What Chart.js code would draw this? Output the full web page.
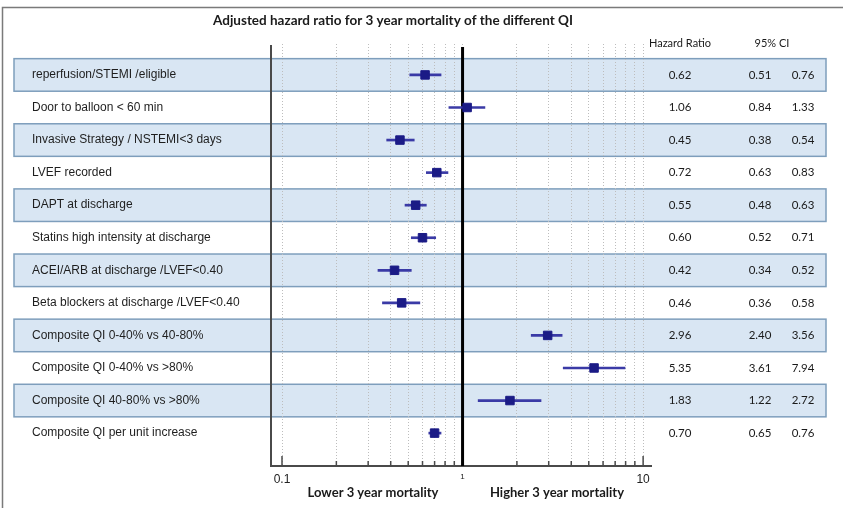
<!DOCTYPE html>
<html>
<head>
<meta charset="utf-8">
<script src="https://cdn.jsdelivr.net/npm/chart.js@4"></script>
<style>
  html, body { margin: 0; padding: 0; background: #fff; }
  #wrap { width: 846px; height: 508px; }
</style>
</head>
<body>
<div id="wrap"><canvas id="forest" width="846" height="508"></canvas></div>
<script>
// Quality indicators (rows, top to bottom)
const categories = [
  'reperfusion/STEMI /eligible',
  'Door to balloon < 60 min',
  'Invasive Strategy / NSTEMI<3 days',
  'LVEF recorded',
  'DAPT at discharge',
  'Statins high intensity at discharge',
  'ACEI/ARB at discharge /LVEF<0.40',
  'Beta blockers at discharge /LVEF<0.40',
  'Composite QI 0-40% vs 40-80%',
  'Composite QI 0-40% vs >80%',
  'Composite QI 40-80% vs >80%',
  'Composite QI per unit increase'
];

// Adjusted hazard ratios with 95% confidence limits
const hazardRatios = [0.62, 1.06, 0.45, 0.72, 0.55, 0.60, 0.42, 0.46, 2.96, 5.35, 1.83, 0.70];
const ciLower      = [0.51, 0.84, 0.38, 0.63, 0.48, 0.52, 0.34, 0.36, 2.40, 3.61, 1.22, 0.65];
const ciUpper      = [0.76, 1.33, 0.54, 0.83, 0.63, 0.71, 0.52, 0.58, 3.56, 7.94, 2.72, 0.76];

// Log axis grid positions and the ones that carry a label
const axisTicks = [0.1, 0.2, 0.3, 0.4, 0.5, 0.6, 0.7, 0.8, 0.9, 1, 2, 3, 4, 5, 6, 7, 8, 9, 10];
const axisLabels = { 0.1: '0.1', 1: '1', 10: '10' };

const titleText = 'Adjusted hazard ratio for 3 year mortality of the different QI';
const leftCaption = 'Lower 3 year mortality';
const rightCaption = 'Higher 3 year mortality';
const tableHeaders = ['Hazard Ratio', '95% CI'];

const NAVY = '#1b1b86';
const CI_BLUE = '#3a3aa6';
const BAND_FILL = '#d9e6f3';
const BAND_EDGE = '#7e9ebc';

const forestDecor = {
  id: 'forestDecor',
  beforeDraw(chart) {
    const { ctx, width, height } = chart;
    const y = chart.scales.y;
    ctx.save();
    ctx.fillStyle = '#fff';
    ctx.fillRect(0, 0, width, height);
    // outer frame (top and left edges)
    ctx.strokeStyle = '#7a7a7a';
    ctx.lineWidth = 1.5;
    ctx.beginPath();
    ctx.moveTo(2.5, height);
    ctx.lineTo(2.5, 7.5);
    ctx.lineTo(width - 3, 7.5);
    ctx.stroke();
    // shaded bands on alternate rows
    const bandLeft = 14, bandRight = width - 20;
    categories.forEach((_, i) => {
      if (i % 2) return;
      const t = y.getPixelForValue(i - 0.5);
      const b = y.getPixelForValue(i + 0.5);
      ctx.fillStyle = BAND_FILL;
      ctx.fillRect(bandLeft, t, bandRight - bandLeft, b - t);
      ctx.strokeStyle = BAND_EDGE;
      ctx.lineWidth = 1.5;
      ctx.strokeRect(bandLeft, t, bandRight - bandLeft, b - t);
    });
    ctx.restore();
  },
  beforeDatasetsDraw(chart) {
    const { ctx, chartArea } = chart;
    const x = chart.scales.x;
    ctx.save();
    // axes
    ctx.strokeStyle = '#4a4a4a';
    ctx.lineWidth = 2;
    ctx.beginPath();
    ctx.moveTo(chartArea.left, chartArea.top + 1);
    ctx.lineTo(chartArea.left, chartArea.bottom);
    ctx.lineTo(chartArea.right, chartArea.bottom);
    ctx.stroke();
    // short inward tick marks
    ctx.lineWidth = 1.5;
    axisTicks.forEach(v => {
      const px = x.getPixelForValue(v);
      const len = (v === 0.1 || v === 10) ? 10 : 5;
      ctx.beginPath();
      ctx.moveTo(px, chartArea.bottom);
      ctx.lineTo(px, chartArea.bottom - len);
      ctx.stroke();
    });
    // line of no effect
    const one = x.getPixelForValue(1);
    ctx.strokeStyle = '#000';
    ctx.lineWidth = 3;
    ctx.beginPath();
    ctx.moveTo(one, chartArea.top + 3);
    ctx.lineTo(one, chartArea.bottom);
    ctx.stroke();
    ctx.restore();
  },
  afterDraw(chart) {
    const { ctx } = chart;
    const y = chart.scales.y;
    ctx.save();
    ctx.fillStyle = '#1a1a1a';
    ctx.textAlign = 'center';
    ctx.textBaseline = 'middle';
    ctx.font = 'bold 13.5px Lato';
    ctx.fillText(titleText, 393, 21);
    ctx.font = '11px Lato';
    ctx.fillText(tableHeaders[0], 680, 43);
    ctx.fillText(tableHeaders[1], 772, 43);
    ctx.font = '11.5px Lato';
    categories.forEach((_, i) => {
      const py = y.getPixelForValue(i);
      ctx.fillText(hazardRatios[i].toFixed(2), 680, py);
      ctx.fillText(ciLower[i].toFixed(2), 760, py);
      ctx.fillText(ciUpper[i].toFixed(2), 803, py);
    });
    ctx.font = 'bold 13px Lato';
    ctx.fillText(leftCaption, 373, 493);
    ctx.fillText(rightCaption, 557, 493);
    ctx.restore();
  }
};

const ciBars = categories.map((_, i) => ({ x: [ciLower[i], ciUpper[i]], y: i }));
const points = categories.map((_, i) => ({ x: hazardRatios[i], y: i }));

new Chart(document.getElementById('forest'), {
  type: 'bar',
  data: {
    datasets: [
      {
        type: 'scatter',
        label: 'Hazard ratio',
        data: points,
        pointStyle: 'rect',
        pointRadius: 6,
        pointHoverRadius: 6,
        backgroundColor: NAVY,
        borderColor: NAVY,
        borderWidth: 1,
        order: 0
      },
      {
        type: 'bar',
        label: '95% CI',
        indexAxis: 'y',
        data: ciBars,
        backgroundColor: CI_BLUE,
        borderWidth: 0,
        barThickness: 2,
        order: 1
      }
    ]
  },
  options: {
    responsive: false,
    animation: false,
    devicePixelRatio: 1,
    layout: { padding: { left: 32, right: 194, top: 44, bottom: 0 } },
    plugins: {
      legend: { display: false },
      tooltip: { enabled: false },
      title: { display: false }
    },
    scales: {
      x: {
        type: 'logarithmic',
        min: 0.0869,
        max: 11.2,
        offset: false,
        afterBuildTicks(scale) {
          scale.ticks = axisTicks.map(v => ({ value: v }));
        },
        afterFit(scale) { scale.height = 42; },
        border: { display: false, dash: [1, 2] },
        grid: {
          display: true,
          drawTicks: false,
          color: '#bdbdbd',
          lineWidth: 1,
          offset: false
        },
        ticks: {
          autoSkip: false,
          maxRotation: 0,
          padding: 6,
          color: '#222',
          font: ctx => (ctx.tick && ctx.tick.value === 1)
            ? { family: 'Liberation Sans', size: 8 }
            : { family: 'Liberation Sans', size: 12 },
          callback: v => axisLabels[v] || ''
        }
      },
      y: {
        type: 'linear',
        reverse: true,
        min: -0.95,
        max: 12.01,
        offset: false,
        afterBuildTicks(scale) {
          scale.ticks = categories.map((_, i) => ({ value: i }));
        },
        afterFit(scale) { scale.width = 239; },
        border: { display: false },
        grid: { display: false, offset: false },
        ticks: {
          crossAlign: 'far',
          autoSkip: false,
          color: '#1e1e1e',
          font: { family: 'Liberation Sans', size: 12 },
          callback: v => categories[v] ?? ''
        }
      }
    }
  },
  plugins: [forestDecor]
});
</script>
</body>
</html>
